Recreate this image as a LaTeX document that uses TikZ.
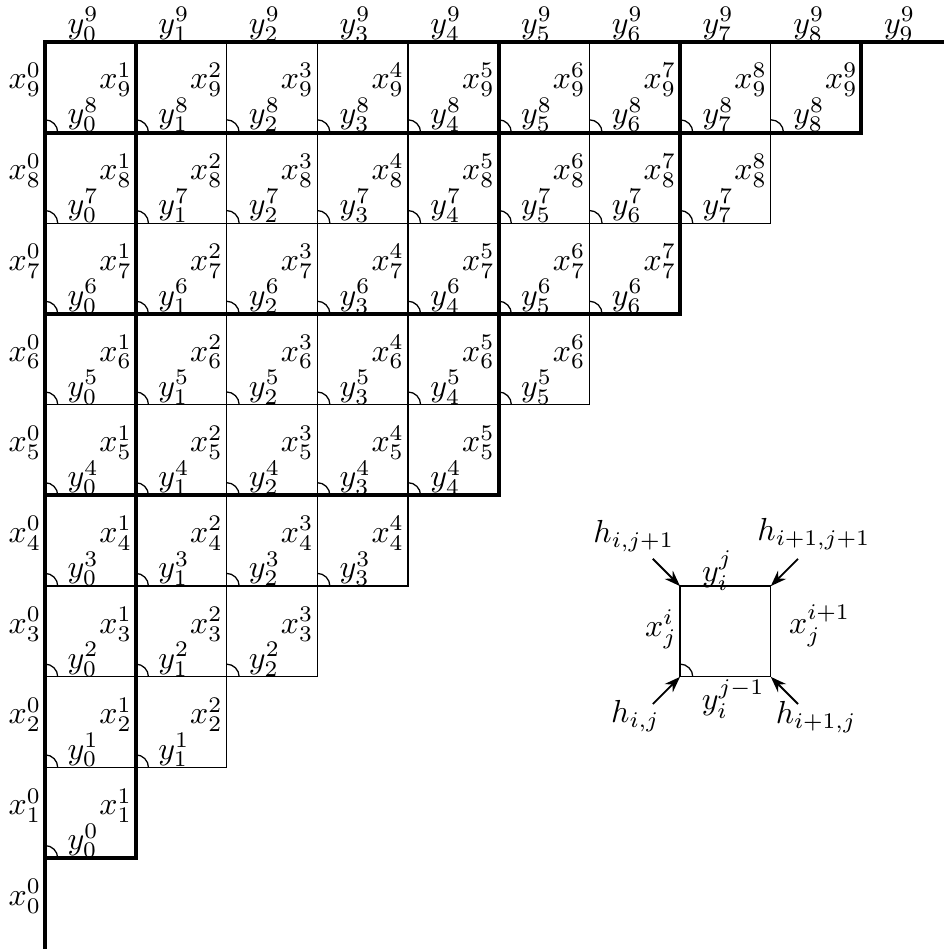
\documentclass[tikz,border=0pt]{standalone}
\usetikzlibrary{arrows.meta}
\begin{document}
\begin{tikzpicture}[
  cellline/.style={line width=0.4pt},
  heavy/.style={line width=1.25pt},
  xlab/.style={anchor=east, inner sep=1pt},
  ylab/.style={anchor=south, inner sep=0pt},
  anglemark/.style={line width=0.4pt},
  harrow/.style={line width=0.6pt, -{Stealth[length=5pt,width=3.6pt]}},
  lab/.style={inner sep=0pt}
]
\useasboundingbox (-0.496,0) rectangle (9.908,10.461);
% cells
\foreach \j in {1,...,9} {
  \pgfmathtruncatemacro{\jm}{\j-1}
  \foreach \i in {1,...,\j} {
    \pgfmathtruncatemacro{\im}{\i-1}
    \draw[cellline] (\im,\j) rectangle (\i,\j+1);
    \draw[anglemark] (\im,\j) ++(4pt,0) arc[start angle=0, end angle=90, radius=4pt];
    \node[xlab] (x-\j-\i) at (\i,\j+0.58) {$x_{\j}^{\i}$};
    \node[ylab] (y-\im-\jm) at (\im+0.42,\j) {$y_{\im}^{\jm}$};
  }
}
% row labels on the left
\foreach \j in {0,...,9} {
  \node[xlab] (x-\j-0) at (0,\j+0.58) {$x_{\j}^{0}$};
}
% top labels
\foreach \i in {0,...,9} {
  \node[ylab] (y-\i-9) at (\i+0.42,10) {$y_{\i}^{9}$};
}
% heavy staircase lines
\draw[heavy] (0,0) -- (0,10) -- (9.908,10);
\foreach \k in {1,5,7,9} {
  \draw[heavy] (0,\k) -- (\k,\k) -- (\k,10);
}
% legend square
\coordinate (bl) at (7,3);
\coordinate (br) at (8,3);
\coordinate (tr) at (8,4);
\coordinate (tl) at (7,4);
\draw[cellline] (bl) -- (br) -- (tr) -- (tl) -- cycle;
\draw[anglemark] (bl) ++(4pt,0) arc[start angle=0, end angle=90, radius=4pt];
\node[lab] (lx) at (6.79,3.52) {$x_j^i$};
\node[lab] (lx1) at (8.54,3.565) {$x_j^{i+1}$};
\node[lab] (ly) at (7.41,4.17) {$y_i^j$};
\node[lab] (lym) at (7.586,2.757) {$y_i^{j-1}$};
% h labels and arrows
\node[lab] (htl) at (6.49,4.555) {$h_{i,j+1}$};
\node[lab] (htr) at (8.476,4.57) {$h_{i+1,j+1}$};
\node[lab] (hbl) at (6.508,2.57) {$h_{i,j}$};
\node[lab] (hbr) at (8.50,2.56) {$h_{i+1,j}$};
\coordinate (atl) at (6.70,4.30);
\coordinate (atr) at (8.30,4.30);
\coordinate (abl) at (6.70,2.70);
\coordinate (abr) at (8.30,2.70);
\draw[harrow] (atl) -- (tl);
\draw[harrow] (atr) -- (tr);
\draw[harrow] (abl) -- (bl);
\draw[harrow] (abr) -- (br);
\end{tikzpicture}
\end{document}
